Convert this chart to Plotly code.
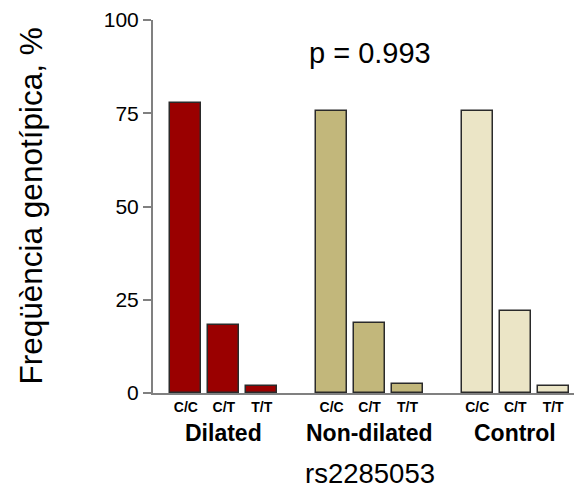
import plotly.graph_objects as go

groups = ["Dilated", "Non-dilated", "Control"]
genotypes = ["C/C", "C/T", "T/T"]
dilated = [77.7, 18.3, 1.9]
non_dilated = [75.5, 18.8, 2.5]
control = [75.7, 21.9, 1.8]
series = [dilated, non_dilated, control]
colors = ["#9a0000", "#c2b77b", "#ebe5c6"]
y_ticks = [0, 25, 50, 75, 100]
p_text = "p = 0.993"
x_title = "rs2285053"
y_title = "Freqüència genotípica, %"

group_step = 3.84
FONT = "Liberation Sans, Arial, sans-serif"

fig = go.Figure()
tickvals, ticktext = [], []
for gi, (g, vals, col) in enumerate(zip(groups, series, colors)):
    xs = [gi * group_step + i for i in range(len(genotypes))]
    tickvals += xs
    ticktext += ["<b>%s</b>" % t for t in genotypes]
    fig.add_trace(go.Bar(
        x=xs, y=vals, name=g, width=0.82,
        marker=dict(color=col, line=dict(color="#2a2a2a", width=1.5)),
        showlegend=False,
    ))
    fig.add_annotation(
        x=xs[1], y=0, xref="x", yref="paper", yanchor="middle",
        yshift=-40, text="<b>%s</b>" % g, showarrow=False,
        font=dict(family=FONT, size=23, color="#000"),
    )

fig.add_annotation(
    x=tickvals[4], y=0, xref="x", yref="paper", yanchor="middle",
    yshift=-80, text=x_title, showarrow=False,
    font=dict(family=FONT, size=27.5, color="#000"),
)
fig.add_annotation(
    x=tickvals[4], y=1, xref="x", yref="paper", yanchor="middle",
    yshift=-33, text=p_text, showarrow=False,
    font=dict(family=FONT, size=29, color="#000"),
)
fig.add_annotation(
    x=0, y=0.5, xref="paper", yref="paper", xanchor="center", yanchor="middle",
    xshift=-123, text=y_title, textangle=-90, showarrow=False,
    font=dict(family=FONT, size=31.5, color="#000"),
)

# page body has an 8px default margin, so the figure is 8px smaller
fig.update_layout(
    width=574, height=481,
    margin=dict(l=145, r=0, t=10, b=96),
    paper_bgcolor="white", plot_bgcolor="white",
    font=dict(family=FONT, color="#000"),
    bargap=0,
)
fig.update_xaxes(
    range=[-0.868, 10.44], tickvals=tickvals, ticktext=ticktext,
    showline=True, linecolor="#808080", linewidth=2,
    ticks="", showgrid=False, zeroline=False,
    tickfont=dict(family=FONT, size=14, color="#000"),
)
fig.update_yaxes(
    range=[0, 100], tickvals=y_ticks,
    showline=True, linecolor="#808080", linewidth=2,
    ticks="outside", ticklen=8, tickcolor="#808080", tickwidth=2,
    showgrid=False, zeroline=False, ticklabeloverflow="allow",
    tickfont=dict(family=FONT, size=21, color="#000"),
)

fig.write_html("out.html")
